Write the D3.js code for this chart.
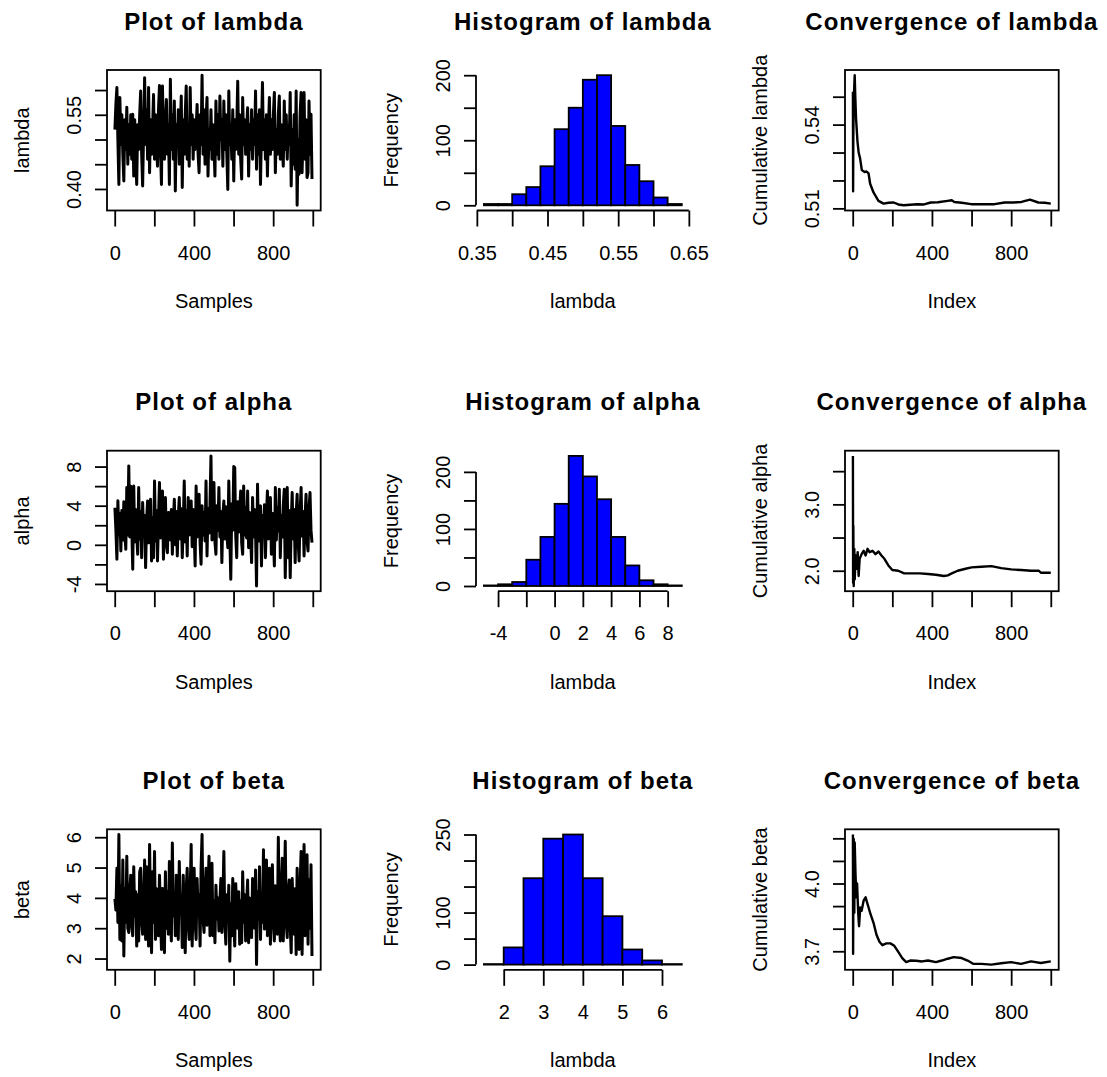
<!DOCTYPE html>
<meta charset="utf-8">
<style>
body { margin: 0; background: #fff; }
svg { display: block; background: #fff; }
text { font-family: "Liberation Sans", Arial, sans-serif; fill: #000; }
.lab, .tick text { font-size: 20px; }
.title { font-size: 24px; font-weight: bold; letter-spacing: 1px; }
</style>
<body>
<script src="https://d3js.org/d3.v7.min.js"></script>
<script>

// ---- data ----
var nIter = 1000;
var thin = 5;   // one value kept for every 5 iterations of the chain

var lambdaTrace = [
0.52,0.571,0.605,0.50,0.409,0.585,0.49,0.55,0.47,0.416,
0.54,0.48,0.565,0.45,0.53,0.47,0.55,0.46,0.551,0.426,
0.54,0.47,0.409,0.53,0.48,0.55,0.598,0.47,0.406,0.52,
0.625,0.49,0.56,0.46,0.605,0.433,0.54,0.47,0.52,0.591,
0.46,0.55,0.49,0.446,0.56,0.609,0.48,0.409,0.608,0.50,
0.46,0.54,0.581,0.47,0.53,0.409,0.622,0.48,0.55,0.46,
0.578,0.396,0.53,0.49,0.56,0.45,0.52,0.588,0.403,0.54,
0.47,0.55,0.608,0.46,0.53,0.446,0.605,0.49,0.55,0.46,
0.54,0.48,0.52,0.571,0.47,0.433,0.55,0.49,0.630,0.47,
0.56,0.45,0.54,0.585,0.426,0.52,0.48,0.56,0.46,0.53,
0.49,0.426,0.578,0.47,0.55,0.46,0.588,0.50,0.54,0.446,
0.578,0.48,0.55,0.47,0.399,0.598,0.49,0.53,0.46,0.56,
0.416,0.54,0.48,0.52,0.618,0.47,0.55,0.46,0.420,0.585,
0.49,0.54,0.47,0.52,0.564,0.426,0.53,0.48,0.56,0.46,
0.54,0.49,0.598,0.440,0.55,0.47,0.56,0.409,0.52,0.615,
0.48,0.54,0.46,0.55,0.426,0.52,0.585,0.47,0.54,0.48,
0.55,0.595,0.433,0.52,0.47,0.55,0.588,0.46,0.53,0.49,
0.446,0.578,0.48,0.55,0.46,0.53,0.49,0.595,0.406,0.52,
0.45,0.55,0.44,0.598,0.367,0.50,0.43,0.55,0.595,0.433,
0.52,0.595,0.46,0.54,0.423,0.433,0.578,0.47,0.551,0.420
];

var alphaTrace = [
3.8,1.5,-1.48,4.5,1.0,3.2,-0.63,3.5,0.5,4.4,
1.2,-0.46,5.85,1.0,8.07,0.8,6.0,1.8,-2.5,6.02,
0.3,3.6,1.1,-0.97,5.85,0.6,3.4,-1.31,4.32,0.9,
3.0,-2.33,2.5,4.49,0.2,3.6,4.66,-1.65,2.8,-1.31,
6.53,0.4,3.5,-1.65,2.6,6.36,0.7,3.8,5.51,-1.48,
2.2,4.83,0.1,-0.8,3.3,3.29,0.5,3.6,-0.97,2.4,
4.66,0.0,3.4,-1.14,2.9,4.83,0.6,3.7,-1.31,2.0,
6.53,0.3,3.5,-1.14,4.83,1.0,3.2,4.49,-0.2,3.6,
1.4,-2.16,6.02,0.8,3.9,5.17,0.2,-1.99,4.0,1.0,
3.3,0.4,6.53,-1.14,3.7,1.2,4.2,9.09,0.5,3.8,
6.36,0.3,-0.97,4.0,1.5,5.85,0.8,3.4,-1.82,3.0,
4.49,0.6,3.9,1.2,-0.29,6.53,1.0,-3.53,4.2,1.5,
8.0,7.9,0.9,-1.31,4.4,1.3,3.6,5.51,0.2,-0.97,
6.02,1.0,3.8,0.7,5.51,-0.29,3.3,1.2,-1.82,4.83,
0.8,3.6,1.5,-4.21,6.19,0.4,3.4,3.98,-2.16,3.0,
0.9,4.1,-1.31,2.8,5.51,0.6,3.7,4.83,-0.97,3.2,
1.1,-2.16,5.85,0.5,3.8,1.4,5.68,-1.31,3.0,0.8,
4.0,5.68,-3.36,2.6,5.85,-1.31,3.5,-3.36,2.2,5.34,
0.6,3.6,-1.82,3.1,5.17,0.4,-1.65,3.3,5.85,0.9,
3.4,-1.14,2.8,5.17,0.5,-0.63,3.6,5.34,1.5,0.22
];

var betaTrace = [
3.97,3.6,4.98,3.19,6.09,2.63,4.4,2.58,5.25,2.08,
4.3,3.2,5.37,3.0,2.86,4.2,4.75,3.1,2.75,5.03,
3.4,4.20,2.41,4.1,2.58,4.86,4.98,3.2,2.80,4.0,
5.25,2.63,5.03,3.3,2.41,5.76,3.5,2.19,4.86,3.2,
5.53,2.63,4.3,3.1,2.75,4.75,3.5,2.30,4.31,3.3,
2.19,4.86,3.0,4.2,2.80,5.20,3.3,2.58,5.81,3.4,
4.2,2.75,4.75,3.2,2.63,5.20,3.5,4.1,2.36,4.75,
3.3,2.19,4.3,4.98,3.1,2.63,4.2,5.76,2.41,3.9,
4.98,3.2,2.63,4.64,3.5,4.1,2.41,4.98,6.09,3.3,
2.86,4.2,4.98,3.1,4.3,5.37,2.75,4.0,5.14,2.75,
3.9,2.52,4.42,3.3,4.0,2.91,3.9,4.64,2.86,3.8,
5.53,3.2,2.47,4.1,3.4,4.42,1.91,3.8,2.75,4.64,
3.3,2.41,4.47,3.5,3.0,4.20,2.47,3.9,2.52,4.86,
3.2,4.1,2.58,3.8,4.59,2.52,4.0,3.1,2.69,4.64,
3.4,3.0,4.92,1.80,4.2,3.3,5.03,2.63,4.1,3.2,
5.59,2.97,4.3,5.25,2.75,4.0,4.98,2.47,4.2,5.09,
3.2,2.58,4.4,3.3,2.80,6.0,3.4,2.58,4.3,5.31,
2.58,3.9,5.87,3.2,2.69,4.2,4.59,3.1,2.19,4.64,
3.5,2.8,4.3,2.13,4.98,3.3,2.30,4.4,5.53,2.13,
4.5,5.76,2.75,4.2,5.42,2.47,4.6,3.0,5.09,2.08
];

// histograms: bin edges and counts
var lambdaBreaks = [0.36,0.38,0.40,0.42,0.44,0.46,0.48,0.50,0.52,0.54,0.56,0.58,0.60,0.62,0.64];
var lambdaCounts = [2,2,17,28,60,117,150,193,200,122,62,37,12,2];
var alphaBreaks = [-5,-4,-3,-2,-1,0,1,2,3,4,5,6,7,8,9];
var alphaCounts = [1,3,7,46,86,144,228,192,152,86,36,10,3,1];
var betaBreaks = [1.5,2,2.5,3,3.5,4,4.5,5,5.5,6,6.5];
var betaCounts = [1,33,166,242,250,166,93,29,8,1];

// running (cumulative) means
var lambdaCumIdx = [1,2,3,5,8,10,13,17,24,30,37,46,60,70,80,88,105,130,156,180,207,230,258,290,326,360,394,430,479,500,513,550,598,650,716,767,810,852,895,937,970,1000];
var lambdaCum = [0.5518,0.5161,0.5350,0.5480,0.5540,0.5577,0.5500,0.5420,0.5340,0.5300,0.5280,0.5237,0.5230,0.5232,0.5225,0.5188,0.5157,0.5127,0.5117,0.5120,0.5121,0.5114,0.5111,0.5113,0.5115,0.5114,0.5121,0.5122,0.5127,0.5129,0.5123,0.5120,0.5115,0.5115,0.5115,0.5121,0.5121,0.5123,0.5131,0.5121,0.5120,0.5117];
var alphaCumIdx = [1,2,3,5,8,10,15,20,25,30,35,45,55,65,75,85,100,115,130,145,160,180,200,230,260,300,340,380,420,460,480,500,530,570,600,650,700,750,800,850,900,940,950,1000];
var alphaCum = [3.73,1.82,2.68,1.77,2.33,1.87,2.23,2.03,2.28,1.92,2.18,2.25,2.30,2.23,2.33,2.28,2.30,2.25,2.29,2.23,2.18,2.08,2.01,2.00,1.96,1.96,1.96,1.95,1.94,1.92,1.93,1.96,2.00,2.03,2.05,2.06,2.07,2.04,2.02,2.01,2.00,2.00,1.97,1.97];
var betaCumIdx = [1,2,3,5,8,10,14,18,22,28,32,38,45,55,65,75,90,105,120,135,150,170,190,210,230,250,270,290,320,350,380,420,450,480,510,550,580,610,650,700,750,800,850,900,950,1000];
var betaCum = [4.217,3.689,3.909,4.197,3.871,4.182,4.045,3.939,4.0,3.864,3.811,3.894,3.879,3.924,3.939,3.909,3.864,3.826,3.773,3.742,3.727,3.735,3.735,3.724,3.697,3.670,3.652,3.659,3.658,3.655,3.659,3.652,3.659,3.667,3.674,3.670,3.659,3.644,3.644,3.641,3.647,3.652,3.644,3.655,3.648,3.655];

// axis ticks, and which of them carry a label
var iterTicks = [0,200,400,600,800,1000], iterLabels = [0,400,800];
var lambdaTraceTicks = [0.40,0.45,0.50,0.55,0.60], lambdaTraceLabels = [0.40,0.55];
var alphaTraceTicks = [-4,-2,0,2,4,6,8], alphaTraceLabels = [-4,0,4,8];
var betaTraceTicks = [2,3,4,5,6], betaTraceLabels = [2,3,4,5,6];

var lambdaHistX = [0.35,0.40,0.45,0.50,0.55,0.60,0.65], lambdaHistXLabels = [0.35,0.45,0.55,0.65];
var lambdaHistY = [0,50,100,150,200], lambdaHistYLabels = [0,100,200];
var alphaHistX = [-4,-2,0,2,4,6,8], alphaHistXLabels = [-4,0,2,4,6,8];
var alphaHistY = [0,50,100,150,200], alphaHistYLabels = [0,100,200];
var betaHistX = [2,3,4,5,6], betaHistXLabels = [2,3,4,5,6];
var betaHistY = [0,50,100,150,200,250], betaHistYLabels = [0,100,250];

var lambdaCumTicks = [0.51,0.52,0.53,0.54,0.55], lambdaCumLabels = [0.51,0.54];
var alphaCumTicks = [2.0,2.5,3.0,3.5], alphaCumLabels = [2.0,3.0];
var betaCumTicks = [3.7,3.8,3.9,4.0,4.1,4.2], betaCumLabels = [3.7,4.0];

// ---- layout (3 x 3 panels, like par(mfrow = c(3,3))) ----
var W = 1107, H = 1077;
var colX = [0, 369, 738];
var rowTop = [70, 450.7, 829.3];
var plotLeft = 107, plotW = 213.7, plotH = 140.5;
var lw = 1.8;

var svg = d3.select("body").append("svg")
    .attr("width", W)
    .attr("height", H);

// R pads the data range by 4% on each side
function pad(lo, hi) {
  var r = hi - lo;
  return [lo - 0.04 * r, hi + 0.04 * r];
}

function labeler(labels, digits) {
  return function(d) {
    var hit = labels.some(function(l) { return Math.abs(l - d) < 1e-9; });
    return hit ? d.toFixed(digits) : "";
  };
}

function panel(row, col) {
  return svg.append("g")
      .attr("transform", "translate(" + (colX[col] + plotLeft) + "," + rowTop[row] + ")");
}

// ticks, labels, and the optional line between first and last tick
function axes(g, x, y, o) {
  var gx = g.append("g")
      .attr("transform", "translate(0," + plotH + ")")
      .call(d3.axisBottom(x).tickValues(o.xTicks).tickSize(16).tickSizeOuter(0)
              .tickFormat(labeler(o.xLabels, o.xDigits)));
  gx.select(".domain").remove();
  gx.selectAll(".tick text").attr("y", 49).attr("dy", null);

  var gy = g.append("g")
      .call(d3.axisLeft(y).tickValues(o.yTicks).tickSize(12).tickSizeOuter(0)
              .tickFormat(labeler(o.yLabels, o.yDigits)));
  gy.select(".domain").remove();
  gy.selectAll(".tick text")
      .attr("x", null).attr("dy", null)
      .attr("text-anchor", "middle")
      .attr("transform", "translate(-26,0) rotate(-90)");

  if (o.lines) {
    gx.append("line")
        .attr("x1", x(o.xTicks[0])).attr("x2", x(o.xTicks[o.xTicks.length - 1]))
        .attr("stroke", "#000").attr("stroke-width", lw);
    gy.append("line")
        .attr("y1", y(o.yTicks[0])).attr("y2", y(o.yTicks[o.yTicks.length - 1]))
        .attr("stroke", "#000").attr("stroke-width", lw);
  }
  g.selectAll(".tick line").attr("stroke", "#000").attr("stroke-width", lw);
  g.selectAll(".tick text").attr("fill", "#000");
  g.selectAll("g").attr("font-size", null).attr("font-family", null);

  // titles
  g.append("text").attr("class", "title")
      .attr("x", plotW / 2).attr("y", -40.5)
      .attr("text-anchor", "middle")
      .text(o.title);
  g.append("text").attr("class", "lab")
      .attr("x", plotW / 2).attr("y", plotH + 97.5)
      .attr("text-anchor", "middle")
      .text(o.xlab);
  g.append("text").attr("class", "lab")
      .attr("text-anchor", "middle")
      .attr("transform", "translate(-78," + (plotH / 2) + ") rotate(-90)")
      .text(o.ylab);
}

function box(g) {
  g.append("rect")
      .attr("width", plotW).attr("height", plotH)
      .attr("fill", "none").attr("stroke", "#000").attr("stroke-width", lw);
}

function tracePanel(row, name, values, yTicks, yLabels, yDigits) {
  var g = panel(row, 0);
  var x = d3.scaleLinear().domain(pad(1, nIter)).range([0, plotW]);
  var y = d3.scaleLinear().domain(pad(d3.min(values), d3.max(values))).range([plotH, 0]);

  var line = d3.line()
      .x(function(d, i) { return x(1 + i * thin); })
      .y(function(d) { return y(d); });

  g.append("path")
      .datum(values)
      .attr("d", line)
      .attr("fill", "none")
      .attr("stroke", "#000")
      .attr("stroke-width", 3)
      .attr("stroke-linejoin", "round");

  box(g);
  axes(g, x, y, {
    xTicks: iterTicks, xLabels: iterLabels, xDigits: 0,
    yTicks: yTicks, yLabels: yLabels, yDigits: yDigits,
    title: "Plot of " + name, xlab: "Samples", ylab: name
  });
}

function histPanel(row, name, breaks, counts, xTicks, xLabels, xDigits, yTicks, yLabels) {
  var g = panel(row, 1);
  var x = d3.scaleLinear().domain(pad(breaks[0], breaks[breaks.length - 1])).range([0, plotW]);
  var y = d3.scaleLinear().domain(pad(0, d3.max(counts))).range([plotH, 0]);

  g.selectAll("rect.bar")
      .data(counts)
    .enter().append("rect")
      .attr("class", "bar")
      .attr("x", function(d, i) { return x(breaks[i]); })
      .attr("width", function(d, i) { return x(breaks[i + 1]) - x(breaks[i]); })
      .attr("y", function(d) { return y(d); })
      .attr("height", function(d) { return y(0) - y(d); })
      .attr("fill", "#0000ff")
      .attr("stroke", "#000")
      .attr("stroke-width", lw);

  axes(g, x, y, {
    xTicks: xTicks, xLabels: xLabels, xDigits: xDigits,
    yTicks: yTicks, yLabels: yLabels, yDigits: 0,
    lines: true,
    title: "Histogram of " + name, xlab: "lambda", ylab: "Frequency"
  });
}

function convPanel(row, name, idx, vals, yTicks, yLabels, yDigits) {
  var g = panel(row, 2);
  var x = d3.scaleLinear().domain(pad(1, nIter)).range([0, plotW]);
  var y = d3.scaleLinear().domain(pad(d3.min(vals), d3.max(vals))).range([plotH, 0]);

  var line = d3.line()
      .x(function(d, i) { return x(idx[i]); })
      .y(function(d) { return y(d); });

  g.append("path")
      .datum(vals)
      .attr("d", line)
      .attr("fill", "none")
      .attr("stroke", "#000")
      .attr("stroke-width", 2.4)
      .attr("stroke-linejoin", "round");

  box(g);
  axes(g, x, y, {
    xTicks: iterTicks, xLabels: iterLabels, xDigits: 0,
    yTicks: yTicks, yLabels: yLabels, yDigits: yDigits,
    title: "Convergence of " + name, xlab: "Index", ylab: "Cumulative " + name
  });
}

tracePanel(0, "lambda", lambdaTrace, lambdaTraceTicks, lambdaTraceLabels, 2);
tracePanel(1, "alpha", alphaTrace, alphaTraceTicks, alphaTraceLabels, 0);
tracePanel(2, "beta", betaTrace, betaTraceTicks, betaTraceLabels, 0);

histPanel(0, "lambda", lambdaBreaks, lambdaCounts, lambdaHistX, lambdaHistXLabels, 2, lambdaHistY, lambdaHistYLabels);
histPanel(1, "alpha", alphaBreaks, alphaCounts, alphaHistX, alphaHistXLabels, 0, alphaHistY, alphaHistYLabels);
histPanel(2, "beta", betaBreaks, betaCounts, betaHistX, betaHistXLabels, 0, betaHistY, betaHistYLabels);

convPanel(0, "lambda", lambdaCumIdx, lambdaCum, lambdaCumTicks, lambdaCumLabels, 2);
convPanel(1, "alpha", alphaCumIdx, alphaCum, alphaCumTicks, alphaCumLabels, 1);
convPanel(2, "beta", betaCumIdx, betaCum, betaCumTicks, betaCumLabels, 1);

</script>
</body>
